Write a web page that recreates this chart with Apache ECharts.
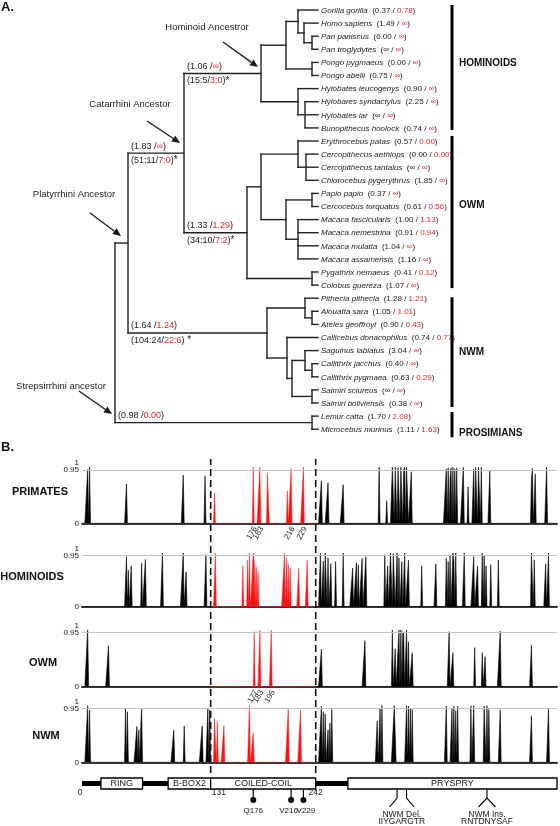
<!DOCTYPE html>
<html><head><meta charset="utf-8">
<script src="https://cdn.jsdelivr.net/npm/echarts@6/dist/echarts.min.js"></script>
<style>html,body{margin:0;padding:0;background:#fff}#c{width:560px;height:826px}</style>
</head><body><div id="c"></div>
<script>
// ================= PANEL A DATA =================
const leafNames = ['Gorilla gorilla','Homo sapiens','Pan paniscus','Pan troglydytes','Pongo pygmaeus','Pongo abelii',
  'Hylobates leucogenys','Hylobares syndactylus','Hylobates lar','Bunopithecus hoolock',
  'Erythrocebus patas','Cercopithecus aethiops','Cercopithecus tantalus','Chlorocebus pygerythrus','Papio papio',
  'Cercocebus torquatus','Macaca fascicularis','Macaca nemestrina','Macaca mulatta','Macaca assamensis',
  'Pygathrix nemaeus','Colobus guereza','Pithecia pithecia','Alouatta sara','Ateles geoffroyi',
  'Callicebus donacophilus','Saguinus labiatus','Callithrix jacchus','Callithrix pygmaea','Saimiri sciureus',
  'Saimiri boliviensis','Lemur catta','Microcebus murinus'];
const leafOmega = ['0.37','1.49','0.00','∞','0.00','0.75','0.90','2.25','∞','0.74','0.57','0.00','∞','1.85','0.37',
  '0.61','1.00','0.91','1.04','1.16','0.41','1.07','1.28','1.05','0.90','0.74','3.04','0.40','0.63','∞','0.38','1.70','1.11'];
const leafOmegaCC = ['0.78','∞','∞','∞','∞','∞','∞','∞','∞','∞','0.00','0.00','∞','∞','∞',
  '0.56','1.13','0.94','∞','∞','0.12','∞','1.21','1.01','0.43','0.77','∞','∞','0.29','∞','∞','2.08','1.63'];
// topology: [nodeDepthX, children, id]; children are leaf indices or nodes
const treeTopology = [115, [
  [128, [
    [184, [
      [261, [
        [286, [
          [298, [0, [304, [1, [312, [2, 3]]]]]],
          [312, [4, 5]]
        ]],
        [298, [6, [305, [7, 8, 9]]]]
      ], 'hominoid'],
      [247, [
        [261, [
          [298, [10, [306, [11, 12, 13]]]],
          [286, [[312, [14, 15]], [298, [16, 17, 18, 19]]]]
        ]],
        [312, [20, 21]]
      ], 'owm']
    ], 'catarrhini'],
    [267, [
      [305, [22, [312, [23, 24]]]],
      [287, [25, [292, [[305, [26, [312, [27, 28]]]], [312, [29, 30]]]]]]
    ], 'nwm']
  ], 'anthropoid'],
  [312, [31, 32], 'strep']
], 'root'];
const cladeNames = ['HOMINOIDS','OWM','NWM','PROSIMIANS'];
const cladeLeafRanges = [[0,9],[10,21],[22,30],[31,32]];
const ancestorLabels = ['Hominoid Ancestror','Catarrhini Ancestor','Platyrrhini Ancestor','Strepsirrhini ancestor'];
const branchIds = ['hominoid','catarrhini','owm','nwm','strep'];
const branchOmega = [['1.06','∞'],['1.83','∞'],['1.33','1.29'],['1.64','1.24'],['0.98','0.00']];
const branchCounts = [['15:5','3:0'],['51:11','7:0'],['34:10','7:2'],['104:24','22:6'],null];

// ================= PANEL B DATA =================
const panelNames = ['PRIMATES','HOMINOIDS','OWM','NWM'];
const primatesBlack = [[1,0.96],[3,1.0],[42,0.7],[102,0.86],[125,0.84],[248,0.76],[255,0.72],[271,0.69],[309,1.0],[317,0.4],
  [323,1.0],[324,0.99],[326,1.0],[327,1.0],[329,0.99],[330,1.0],[332,1.0],[333,0.98],[335,0.95],[336,1.0],[338,1.0],[339,0.99],[343,0.92],
  [380,0.97],[382,0.99],[384,0.8],[385,0.99],[387,1.0],[389,0.97],[391,0.99],[398,1.0],[403,0.65],
  [409,0.97],[411,1.0],[412,0.99],[414,1.0],[415,0.98],[417,1.0],[426,0.93],[470,0.8],[471,0.98],[474,0.88],[486,1.0]];
const primatesRed = [[135,0.55],[176,1.0],[183,1.0],[191,0.89],[192,0.88],[212,0.58],[216,0.98],[229,1.0]];
const hominoidsBlack = [[42,0.93],[44,0.68],[47,0.76],[58,0.81],[62,0.88],[80,1.0],[102,1.0],[105,0.65],[126,0.97],
  [247,1.0],[250,0.85],[252,1.0],[253,0.99],[255,0.91],[258,0.8],[263,0.84],[271,1.0],[281,0.72],[285,0.82],[287,0.78],
  [291,0.9],[295,0.93],[315,0.97],[318,0.76],[321,1.0],[322,1.0],[324,0.99],[325,1.0],[328,1.0],[330,0.91],[333,0.84],
  [336,1.0],[340,0.87],[354,0.76],[369,0.8],[380,0.9],[382,0.84],[384,0.95],[387,1.0],[388,0.85],[390,1.0],[399,1.0],
  [409,0.93],[413,0.76],[418,1.0],[420,0.95],[422,0.76],[427,0.78],[435,0.87],[470,1.0],[471,0.99],[473,0.87],[485,0.8],[488,1.0]];
const hominoidsRed = [[136,1.0],[165,0.76],[170,0.87],[172,1.0],[176,1.0],[177,0.84],[179,0.76],[181,0.65],
  [209,1.0],[211,0.91],[213,0.8],[215,0.72],[224,0.72],[233,0.87]];
const owmBlack = [[1,1.0],[23,0.72],[248,0.66],[294,0.81],[323,1.0],[326,0.67],[330,1.0],[332,1.0],[334,0.97],[335,0.91],
  [338,1.0],[340,0.79],[344,0.6],[383,0.97],[387,0.6],[410,0.69],[418,0.6],[421,0.53],[437,0.98],[470,0.73]];
const owmRed = [[177,0.97],[183,1.0],[195,1.0]];
const nwmBlack = [[1,1.0],[3,0.92],[41,0.95],[43,0.89],[53,0.63],[55,0.57],[57,0.58],[58,0.95],[92,0.57],[103,0.64],
  [122,0.64],[128,0.95],[130,0.92],[248,0.99],[250,0.89],[252,0.85],[255,0.57],[257,0.69],[259,0.93],[307,0.73],[310,0.95],
  [312,1.0],[325,1.0],[326,1.0],[338,1.0],[340,0.99],[342,0.95],[344,0.93],[380,0.99],[386,0.95],[388,0.99],[390,0.91],
  [392,0.99],[406,1.0],[409,1.0],[420,0.99],[421,1.0],[423,1.0],[425,0.93],[437,0.92],[470,0.82],[488,0.95]];
const nwmRed = [[135,0.77],[136,0.74],[138,0.72],[145,0.65],[172,1.0],[176,0.52],[213,0.95],[226,0.92]];
const primatesTicks = [176,183,216,229];
const owmTicks = [177,183,195];
const yLowTicks = [0,0.95];
const yTopTicks = [1];
const proteinRange = [-5,497];
const domainNames = ['RING','B-BOX2','COILED-COIL','PRYSPRY'];
const domainStarts = [15,86,131,276];
const domainEnds = [59,131,242,497];
const boundaryLabels = [0,131,242];
const siteNames = ['Q176','V216','V229'];
const sitePositions = [176,216,229];
const indelNames = [['NWM Del.','IIYGARGTR'],['NWM Ins.','RNTDNYSAF']];
const indelStarts = [328,423];
const indelEnds = [338,423];

// ================= STYLE / LAYOUT =================
const FONT = '"Liberation Sans", Arial, sans-serif';
const RED_T = '#e3262b', RED_F = '#ff1212', INK = '#1a1a1a';
const TREE_TOP = 10, LEAF_STEP = 13.1, LEAF_END = 318, LABEL_X = 321;
const pyToLeaf = py => (py - TREE_TOP) / LEAF_STEP;
const panelGrids = [{top:467.2,h:56.1},{top:553,h:53.7},{top:629.9,h:56.8},{top:705.5,h:56.8}];
const panelTitlePos = [[40,492],[32,577],[43,663],[46,736]];
const ancestorLayout = [
  {c:[207,27], tail:[223,42], tip:[258,67]},
  {c:[130,104], tail:[147,121], tip:[180,143]},
  {c:[74,194], tail:[90,213], tip:[121,236]},
  {c:[61,386], tail:[79,391], tip:[112,414]}];
const cladeLabelY = [63,205,352,433];
const cladeBarPad = [[-5,2],[-5,3],[-1,4],[-4,8]];
const siteLabelShift = [0,-2.5,2.5];

// ================= TREE LAYOUT =================
const treeSegs = [];
const nodeInfo = {};
function walk(node, parentX) {
  if (typeof node === 'number') return {x: LEAF_END, y: node};
  const [x, kids, id] = node;
  const ys = kids.map(k => {
    const c = walk(k, x);
    treeSegs.push([x, c.y, c.x, c.y]);
    return c.y;
  });
  treeSegs.push([x, ys[0], x, ys[ys.length - 1]]);
  const y = (ys[0] + ys[ys.length - 1]) / 2;
  if (id) nodeInfo[id] = {x, y, parentX};
  return {x, y};
}
walk(treeTopology, null);

function arrowEls(a, b) {
  const dx = b[0]-a[0], dy = b[1]-a[1], L = Math.hypot(dx, dy), ux = dx/L, uy = dy/L;
  const hl = 8, hw = 3.6, bx = b[0]-ux*hl, by = b[1]-uy*hl;
  return [
    {type:'line', shape:{x1:a[0],y1:a[1],x2:bx,y2:by}, style:{stroke:INK, lineWidth:1.3}},
    {type:'polygon', shape:{points:[[b[0],b[1]],[bx-uy*hw,by+ux*hw],[bx+uy*hw,by-ux*hw]]}, style:{fill:INK}}];
}

const txtRich = (sz) => ({
  n:{fontSize:sz, fontFamily:FONT, fill:'#222'},
  r:{fontSize:sz, fontFamily:FONT, fill:RED_T},
  i:{fontSize:sz, fontFamily:FONT, fill:'#222', fontStyle:'italic'},
  s:{fontSize:sz+1, fontFamily:FONT, fill:'#222'}
});

// ================= PANEL B SERIES =================
function profile(peaks, from, to) {
  const m = new Map(peaks.map(p => [p[0], p[1]]));
  const out = [];
  for (let r = from; r <= to; r++) out.push([r, m.has(r) ? m.get(r) : 0]);
  return out;
}
const ccStart = domainStarts[2], ccEnd = domainEnds[2];
const blackSets = [primatesBlack, hominoidsBlack, owmBlack, nwmBlack];
const redSets = [primatesRed, hominoidsRed, owmRed, nwmRed];
const tickSets = [primatesTicks, null, owmTicks, null];

const grids = [{left:0, right:0, top:TREE_TOP, height:32*LEAF_STEP}];
const xAxes = [{gridIndex:0, type:'value', min:0, max:560, show:false}];
const yAxes = [{gridIndex:0, type:'value', min:0, max:32, inverse:true, show:false}];
const series = [];

panelGrids.forEach((g, k) => {
  const gi = grids.length;
  grids.push({left:82, right:3, top:g.top, height:g.h});
  xAxes.push({gridIndex:gi, type:'value', min:proteinRange[0], max:proteinRange[1],
    axisLine:{show:true, onZero:true, lineStyle:{color:'#3a3a3a', width:2}},
    axisTick:{show:false}, splitLine:{show:false}, axisLabel:{show:false}});
  const ya = yAxes.length;
  yAxes.push({gridIndex:gi, type:'value', position:'left', min:0, max:1, axisLine:{show:false}, axisTick:{show:false},
    splitLine:{show:false}, axisLabel:{customValues:yLowTicks, fontSize:8, margin:3, color:'#222', fontFamily:FONT}});
  yAxes.push({gridIndex:gi, type:'value', position:'left', offset:0, min:0, max:1, axisLine:{show:false},
    axisTick:{show:false}, splitLine:{show:false}, axisLabel:{customValues:yTopTicks, fontSize:8, margin:3,
      color:'#222', fontFamily:FONT, verticalAlign:'bottom'}});
  const xi = xAxes.length - 1;
  series.push({type:'line', xAxisIndex:xi, yAxisIndex:ya, data:[], z:1, silent:true,
    markLine:{silent:true, symbol:'none', label:{show:false}, animation:false,
      lineStyle:{color:'#c4c4c4', width:1, type:'solid'}, data:[{yAxis:0.95}]}});
  const common = {type:'line', xAxisIndex:xi, yAxisIndex:ya, showSymbol:false, symbol:'none', z:3,
    silent:true, animation:false};
  series.push(Object.assign({}, common, {data:profile(blackSets[k], proteinRange[0], ccStart),
    lineStyle:{color:'#000', width:0.6}, areaStyle:{color:'#000', opacity:1}}));
  series.push(Object.assign({}, common, {data:profile(blackSets[k], ccEnd, proteinRange[1]),
    lineStyle:{color:'#000', width:0.6}, areaStyle:{color:'#000', opacity:1}}));
  series.push(Object.assign({}, common, {data:profile(redSets[k], ccStart, ccEnd), z:4,
    lineStyle:{color:RED_F, width:0.6, opacity:0.8}, areaStyle:{color:RED_F, opacity:1}}));
  if (tickSets[k]) {
    // rotated site labels under the axis, positioned through the axis scale
    series.push({type:'custom', xAxisIndex:xi, yAxisIndex:ya, silent:true, z:6,
      data:tickSets[k].map(v=>[v, 0]),
      renderItem(p, api){
        const c = api.coord([api.value(0), 0]);
        return {type:'text', x:c[0] + 2, y:c[1] + 4, rotation:Math.PI/3,
          style:{text:String(api.value(0)), fontSize:8, fontFamily:FONT, fill:'#222',
            align:'right', verticalAlign:'middle'}};
      }});
  }
});

// dashed overlay grid
const ovG = grids.length;
grids.push({left:82, right:3, top:459, height:314});
xAxes.push({gridIndex:ovG, type:'value', min:proteinRange[0], max:proteinRange[1], show:false});
yAxes.push({gridIndex:ovG, type:'value', min:0, max:1, show:false});
series.push({type:'custom', xAxisIndex:xAxes.length-1, yAxisIndex:yAxes.length-1, silent:true, z:5,
  data:[[ccStart,0,1],[ccEnd,0,1]],
  renderItem(p, api){
    const a = api.coord([api.value(0), api.value(1)]), b = api.coord([api.value(0), api.value(2)]);
    return {type:'line', shape:{x1:a[0],y1:a[1],x2:b[0],y2:b[1]},
      style:{stroke:'#111', lineWidth:1.6, lineDash:[7,4]}};
  }});

// domain grid (y in px offsets below grid top)
const dG = grids.length;
grids.push({left:82, right:3, top:770, height:56});
xAxes.push({gridIndex:dG, type:'value', min:proteinRange[0], max:proteinRange[1], show:false});
yAxes.push({gridIndex:dG, type:'value', min:0, max:56, inverse:true, show:false});
const dXi = xAxes.length-1, dYi = yAxes.length-1;
const LINE_Y = 13.5, BOX_T = 8, BOX_B = 19;
series.push({type:'custom', xAxisIndex:dXi, yAxisIndex:dYi, silent:true, z:6,
  data:[[proteinRange[0], proteinRange[1]]],
  renderItem(p, api){
    const a = api.coord([api.value(0), LINE_Y]), b = api.coord([api.value(1), LINE_Y]);
    return {type:'rect', shape:{x:a[0], y:a[1]-2.5, width:b[0]-a[0], height:5}, style:{fill:'#000'}};
  }});
series.push({type:'custom', xAxisIndex:dXi, yAxisIndex:dYi, silent:true, z:7,
  data:domainStarts.map((s,i)=>[s, domainEnds[i]]),
  renderItem(p, api){
    const a = api.coord([api.value(0), BOX_T]), b = api.coord([api.value(1), BOX_B]);
    return {type:'group', children:[
      {type:'rect', shape:{x:a[0], y:a[1], width:b[0]-a[0], height:b[1]-a[1]},
        style:{fill:'#fff', stroke:'#000', lineWidth:1.3}},
      {type:'text', x:(a[0]+b[0])/2, y:(a[1]+b[1])/2+0.5, style:{text:domainNames[p.dataIndex], fontSize:9,
        fontFamily:FONT, fill:'#222', align:'center', verticalAlign:'middle'}}]};
  }});
series.push({type:'custom', xAxisIndex:dXi, yAxisIndex:dYi, silent:true, z:7,
  data:boundaryLabels.map(v=>[v, 22.5]),
  renderItem(p, api){
    const v = api.value(0);
    const pos = v === 0 ? api.coord([proteinRange[0], api.value(1)]) : api.coord([v, api.value(1)]);
    const al = p.dataIndex === 1 ? 'left' : 'center';
    return {type:'text', x:pos[0] + (p.dataIndex===0 ? -2 : (p.dataIndex===1 ? 1 : 0)), y:pos[1],
      style:{text:String(v), fontSize:8.5, fontFamily:FONT, fill:'#222', align:al, verticalAlign:'middle'}};
  }});
series.push({type:'custom', xAxisIndex:dXi, yAxisIndex:dYi, silent:true, z:7,
  data:sitePositions.map(v=>[v, BOX_B]),
  renderItem(p, api){
    const a = api.coord([api.value(0), BOX_B]), c = api.coord([api.value(0), 30]), t = api.coord([api.value(0), 41]);
    return {type:'group', children:[
      {type:'line', shape:{x1:a[0],y1:a[1],x2:c[0],y2:c[1]}, style:{stroke:'#000', lineWidth:1.2}},
      {type:'circle', shape:{cx:c[0], cy:c[1], r:3}, style:{fill:'#000'}},
      {type:'text', x:t[0] + siteLabelShift[p.dataIndex], y:t[1], style:{text:siteNames[p.dataIndex], fontSize:8,
        fontFamily:FONT, fill:'#222', align:'center', verticalAlign:'middle'}}]};
  }});
series.push({type:'custom', xAxisIndex:dXi, yAxisIndex:dYi, silent:true, z:7,
  data:indelStarts.map((s,i)=>[s, indelEnds[i]]),
  renderItem(p, api){
    const s = api.value(0), e = api.value(1), ch = [];
    const st = {stroke:'#000', lineWidth:1.1, fill:null};
    if (s === e) {
      const a = api.coord([s, BOX_B]), m = api.coord([s, 28]);
      const l = api.coord([s-9, 37]), r = api.coord([s+9, 37]);
      ch.push({type:'polyline', shape:{points:[a, m]}, style:st});
      ch.push({type:'polyline', shape:{points:[l, m, r]}, style:st});
    } else {
      const a1 = api.coord([s, BOX_B]), m1 = api.coord([s, 28]), l = api.coord([s-8, 37]);
      const a2 = api.coord([e, BOX_B]), m2 = api.coord([e, 28]), r = api.coord([e+8, 37]);
      ch.push({type:'polyline', shape:{points:[a1, m1, l]}, style:st});
      ch.push({type:'polyline', shape:{points:[a2, m2, r]}, style:st});
    }
    const t1 = api.coord([(s+e)/2, 44.5]), t2 = api.coord([(s+e)/2, 51.5]);
    ch.push({type:'text', x:t1[0], y:t1[1], style:{text:indelNames[p.dataIndex][0], fontSize:8.5,
      fontFamily:FONT, fill:'#222', align:'center', verticalAlign:'middle'}});
    ch.push({type:'text', x:t2[0], y:t2[1], style:{text:indelNames[p.dataIndex][1], fontSize:8.5,
      fontFamily:FONT, fill:'#222', align:'center', verticalAlign:'middle'}});
    return {type:'group', children:ch};
  }});

// ================= TREE SERIES =================
series.push({type:'custom', xAxisIndex:0, yAxisIndex:0, silent:true, z:5, data:treeSegs,
  renderItem(p, api){
    const a = api.coord([api.value(0), api.value(1)]), b = api.coord([api.value(2), api.value(3)]);
    return {type:'line', shape:{x1:a[0],y1:a[1],x2:b[0],y2:b[1]},
      style:{stroke:'#222', lineWidth:1.4, lineCap:'square'}};
  }});
series.push({type:'custom', xAxisIndex:0, yAxisIndex:0, silent:true, z:5,
  data:leafNames.map((n,i)=>[LABEL_X, i]),
  renderItem(p, api){
    const i = p.dataIndex, c = api.coord([api.value(0), api.value(1)]);
    return {type:'text', x:c[0], y:c[1]+0.5, style:{
      text:`{i|${leafNames[i]}}{n|  (${leafOmega[i]} / }{r|${leafOmegaCC[i]}}{n|)}`,
      rich:txtRich(8), fontSize:8, fontFamily:FONT, align:'left', verticalAlign:'middle'}};
  }});
series.push({type:'custom', xAxisIndex:0, yAxisIndex:0, silent:true, z:5,
  data:cladeLeafRanges.map((r,i)=>[452, r[0], r[1]]),
  renderItem(p, api){
    const i = p.dataIndex;
    const a = api.coord([api.value(0), api.value(1)]), b = api.coord([api.value(0), api.value(2)]);
    const ly = api.coord([459, pyToLeaf(cladeLabelY[i])]);
    return {type:'group', children:[
      {type:'rect', shape:{x:a[0]-1.5, y:a[1]+cladeBarPad[i][0], width:3, height:b[1]-a[1]+cladeBarPad[i][1]-cladeBarPad[i][0]},
        style:{fill:'#000'}},
      {type:'text', x:ly[0], y:ly[1], style:{text:cladeNames[i], fontSize:10, fontWeight:'bold',
        fontFamily:FONT, fill:'#111', align:'left', verticalAlign:'middle'}}]};
  }});
series.push({type:'custom', xAxisIndex:0, yAxisIndex:0, silent:true, z:5,
  data:ancestorLayout.map(a=>[a.c[0], pyToLeaf(a.c[1])]),
  renderItem(p, api){
    const L = ancestorLayout[p.dataIndex];
    const c = api.coord([api.value(0), api.value(1)]);
    const t = api.coord([L.tail[0], pyToLeaf(L.tail[1])]), h = api.coord([L.tip[0], pyToLeaf(L.tip[1])]);
    return {type:'group', children:[
      {type:'text', x:c[0], y:c[1], style:{text:ancestorLabels[p.dataIndex], fontSize:9.5, fontFamily:FONT,
        fill:'#222', align:'center', verticalAlign:'middle'}}].concat(arrowEls(t, h))};
  }});
series.push({type:'custom', xAxisIndex:0, yAxisIndex:0, silent:true, z:5,
  data:branchIds.map(id=>[nodeInfo[id].parentX, nodeInfo[id].y]),
  renderItem(p, api){
    const i = p.dataIndex;
    const c = api.coord([api.value(0), api.value(1)]);
    const x = c[0] + 3, ch = [];
    const om = branchOmega[i];
    ch.push({type:'text', x, y:c[1]-7, style:{text:`{n|(${om[0]} /}{r|${om[1]}}{n|)}`, rich:txtRich(9),
      fontSize:9, fontFamily:FONT, align:'left', verticalAlign:'middle'}});
    const cn = branchCounts[i];
    if (cn) {
      ch.push({type:'text', x, y:c[1]+7.5, style:{text:`{n|(${cn[0]}/}{r|${cn[1]}}{n|)}{s|${i===3?' ':''}*}`,
        rich:txtRich(9), fontSize:9, fontFamily:FONT, align:'left', verticalAlign:'middle'}});
    }
    return {type:'group', children:ch};
  }});

const graphics = [
  {type:'text', left:1, top:1, style:{text:'A.', font:'bold 13px ' + FONT, fill:'#111'}},
  {type:'text', left:1, top:441, style:{text:'B.', font:'bold 13px ' + FONT, fill:'#111'}}
].concat(panelNames.map((n,i)=>({type:'text', x:panelTitlePos[i][0], y:panelTitlePos[i][1],
  style:{text:n, font:'bold 11px ' + FONT, fill:'#111', align:'center', verticalAlign:'middle'}})));

const chart = echarts.init(document.getElementById('c'), null, {renderer:'canvas'});
chart.setOption({
  animation:false,
  backgroundColor:'#fff',
  textStyle:{fontFamily:FONT},
  grid:grids, xAxis:xAxes, yAxis:yAxes, series:series, graphic:graphics
});
</script></body></html>
